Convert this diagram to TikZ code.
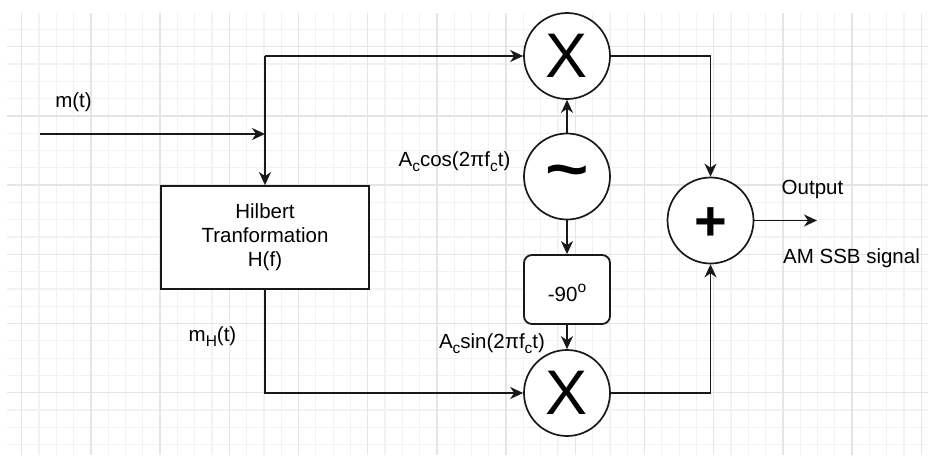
\documentclass[tikz,border=0pt]{standalone}
\usepackage{fontspec}
\setmainfont{Liberation Sans}
\usetikzlibrary{arrows.meta}
\begin{document}
\begin{tikzpicture}[x=1pt,y=-1pt,
  minorgrid/.style={draw=black!5, line width=1.2pt},
  majorgrid/.style={draw=black!10, line width=1.3pt},
  wire/.style={line width=1.8pt, draw=black!90},
  arr/.style={wire, -{Stealth[length=13pt,width=12pt,inset=4pt]}},
  opcircle/.style={circle, draw=black!90, line width=1.7pt, fill=white, minimum size=86pt, inner sep=0pt},
  blockbox/.style={rectangle, draw=black!90, line width=1.8pt, fill=white, inner sep=0pt, align=center},
  lbl/.style={font=\fontsize{20.5}{24}\selectfont, inner sep=0pt, anchor=base},
  bigsym/.style={inner sep=0pt, font=\fontsize{63}{63}\selectfont}
]
\useasboundingbox (0,0) rectangle (928,455);
% grid
\begin{scope}
\clip (7,13) rectangle (928,455);
\foreach \i in {-1,...,54} \draw[minorgrid] ({21.7+17.3*\i},13) -- ({21.7+17.3*\i},455);
\foreach \i in {-1,...,26} \draw[minorgrid] (7,{46.7+17.3*\i}) -- (928,{46.7+17.3*\i});
\foreach \i in {0,...,13} \draw[majorgrid] ({21.7+69.2*\i},13) -- ({21.7+69.2*\i},455);
\foreach \i in {0,...,6} \draw[majorgrid] (7,{46.7+69.2*\i}) -- (928,{46.7+69.2*\i});
\end{scope}

% blocks
\node[opcircle] (m1) at (567,56) {};
\node[bigsym] at (m1) {X};
\node[opcircle] (osc) at (567,176.5) {};
\node[inner sep=0pt, font=\fontsize{62}{62}\bfseries\selectfont] at (567,177.5) {\scalebox{1.2}[1]{\symbol{"7E}}};
\node[opcircle] (m2) at (567,393) {};
\node[bigsym] at (m2) {X};
\node[opcircle] (sum) at (710.5,220.5) {};
\node[inner sep=0pt, font=\fontsize{56}{56}\bfseries\selectfont] at (710.5,224) {+};
\node[blockbox, minimum width=208pt, minimum height=103pt,
      font=\fontsize{20.5}{24}\selectfont] (hil) at (265,237.5) {Hilbert\\Tranformation\\H(f)};
\node[blockbox, rounded corners=8pt, minimum width=86pt, minimum height=69pt] (ph) at (567,289.5) {};

% coordinates
\coordinate (in) at (40,134);
\coordinate (tl) at (hil.north |- m1);
\coordinate (bl) at (hil.south |- m2);
\coordinate (tr) at (sum.north |- m1);
\coordinate (br) at (sum.south |- m2);
\coordinate (out) at (817,220.5);

% connectors
\draw[arr] (in) -- (hil.north |- in);
\draw[arr] (tl) -- (hil.north);
\draw[arr] (tl) -- (m1.west);
\draw[arr] (hil.south) -- (bl) -- (m2.west);
\draw[arr] (osc.north) -- (m1.south);
\draw[arr] (osc.south) -- (ph.north);
\draw[arr] (ph.south) -- (m2.north);
\draw[arr] (m1.east) -- (tr) -- (sum.north);
\draw[arr] (m2.east) -- (br) -- (sum.south);
\draw[arr] (sum.east) -- (out);

% labels
\newcommand{\lowsub}[1]{\raisebox{-0.28em}{\fontsize{15.5}{15.5}\selectfont #1}}
\node[lbl] (lm) at (73.5,107.5) {m(t)};
\node[lbl] (lcos) at (454.5,166) {A\lowsub{c}cos(2πf\lowsub{c}t)};
\node[lbl] (lph) at (567,301.5) {-90\raisebox{0.45em}{\fontsize{15.5}{15.5}\selectfont o}};
\node[lbl] (lsin) at (492,348) {A\lowsub{c}sin(2πf\lowsub{c}t)};
\node[lbl] (lmh) at (212.5,341) {m\lowsub{H}(t)};
\node[lbl] (lout) at (812.5,194) {Output};
\node[lbl] (lssb) at (851.5,263) {AM SSB signal};
\end{tikzpicture}
\end{document}
